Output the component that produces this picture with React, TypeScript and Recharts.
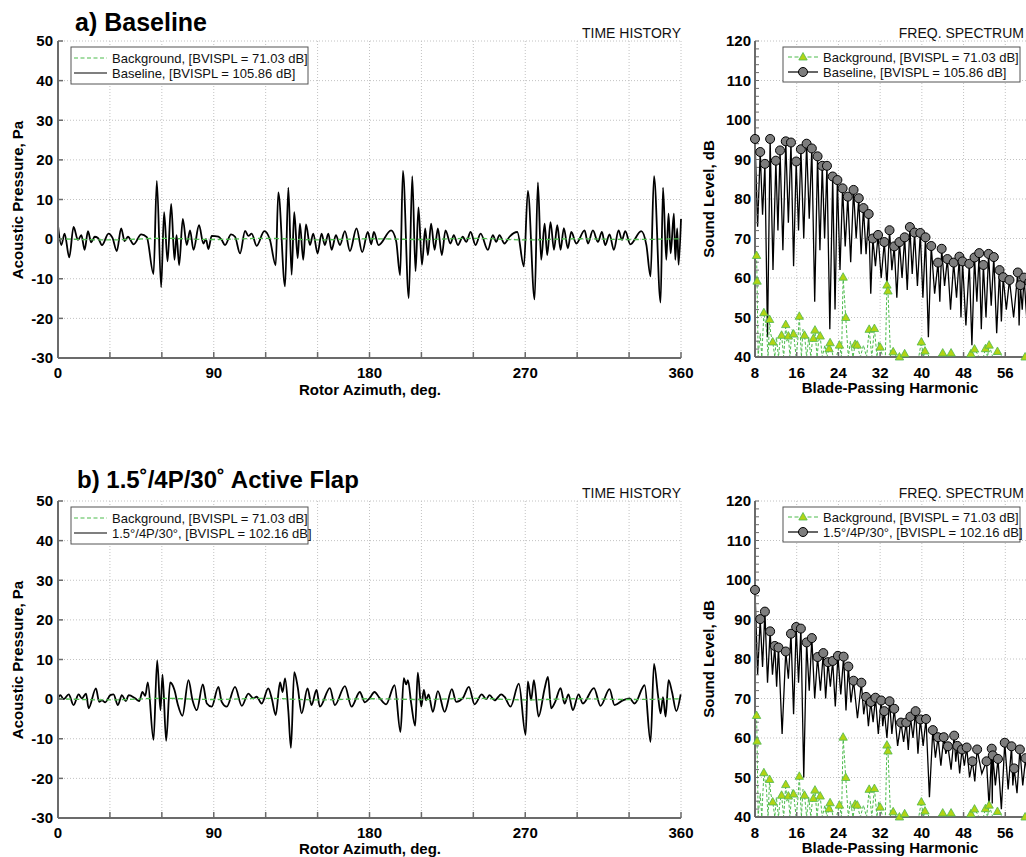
import React from 'react';
import { LineChart, Line, XAxis, YAxis, CartesianGrid } from 'recharts';

// time history: [azimuth deg, pressure Pa], peaks and troughs
const baselineTrace = [
  [0, 3.5], [1.9, -1.5], [3.8, 1.4], [6.5, -4.6], [9.0, 3.1], [11.5, -0.2], [13.5, 1.0], [15.4, -2.7],
  [17.3, 2.0], [19.2, -0.8], [21.2, 0.6], [23.1, 0.3], [25.4, -1.5], [29.2, 1.4], [31.5, 0.3], [34.0, -3.0],
  [36.5, 2.7], [38.5, -0.5], [40.4, 0.6], [43.7, -1.3], [48.1, 1.2], [51.3, 0.5], [55.2, -8.8], [57.1, 14.7],
  [59.6, -12.1], [61.3, 6.8], [63.3, -5.6], [65.4, 8.9], [67.3, -5.2], [68.5, 1.0], [70.0, -6.6], [72.1, 5.1],
  [74.4, -1.5], [76.3, 2.2], [78.3, -2.7], [81.5, 3.5], [84.0, -1.1], [85.5, 0.0], [86.9, -2.5], [88.8, 0.8],
  [92.7, 0.6], [94.6, -0.2], [96.5, -1.5], [100.0, 1.2], [102.3, 0.6], [105.2, -3.6], [108.1, 2.1], [110.0, 0.8],
  [111.9, 1.4], [114.8, -1.7], [119.2, 2.0], [122.5, -0.2], [125.8, -6.6], [127.3, 11.8], [131.2, -11.9], [133.1, 13.0],
  [135.0, -9.0], [136.5, 6.8], [138.5, -4.8], [139.8, 3.9], [141.7, -5.2], [143.3, 3.7], [145.6, -1.5], [147.5, 1.4],
  [150.0, -3.6], [152.3, 1.4], [154.2, -1.5], [156.2, 1.4], [158.1, -2.7], [160.6, 1.0], [162.9, -1.5], [165.8, 2.0],
  [168.7, -3.0], [172.5, 2.7], [175.8, -3.3], [179.0, 1.8], [181.0, -1.3], [182.5, 1.8], [185.2, -1.5], [192.5, 2.2],
  [195.4, -0.5], [197.7, -9.1], [199.3, 17.2], [202.7, -14.9], [204.7, 15.9], [206.6, -8.1], [208.3, 8.0], [210.3, -6.5],
  [212.2, 2.7], [213.7, -4.0], [215.6, 3.9], [217.6, -2.7], [219.5, 2.7], [221.8, -4.0], [223.9, 2.2], [226.8, -1.1],
  [228.7, 1.0], [231.1, -1.5], [233.9, 0.6], [235.9, -0.7], [238.4, 1.8], [241.3, -1.5], [244.2, 1.4], [248.4, -2.7],
  [251.3, 1.0], [253.2, -0.7], [255.1, 1.0], [258.0, -1.1], [260.9, 0.6], [265.4, 1.8], [269.2, -6.9], [271.5, 12.2],
  [275.4, -15.2], [277.3, 14.3], [279.2, -5.2], [281.2, 3.9], [282.7, -4.0], [284.6, 4.3], [286.6, -2.7], [288.5, 3.5],
  [290.4, -2.7], [292.3, 2.8], [294.6, -2.3], [296.6, 1.8], [299.5, -1.1], [304.3, 2.2], [306.2, -1.1], [309.1, 2.2],
  [312.0, -0.7], [314.3, 1.8], [316.2, -1.5], [318.7, 1.2], [321.2, -2.7], [323.9, 2.2], [325.9, -0.2], [327.8, 2.0],
  [330.7, -1.3], [337.0, 2.0], [340.0, -1.5], [342.4, -9.4], [344.4, 15.9], [348.2, -16.0], [349.6, 13.0], [351.5, -5.2],
  [352.8, 6.4], [354.0, -3.6], [355.9, 6.4], [356.7, -5.2], [357.8, 2.7], [358.6, -6.5], [360.0, 5.1],
];

const flapTrace = [
  [0, 0.2], [1.3, 1.0], [3.3, 0.0], [6.2, 1.2], [9.0, -1.5], [11.9, 1.2], [13.8, 0.2], [16.2, 1.4],
  [17.7, -2.3], [21.9, 2.7], [23.8, -0.7], [25.4, -0.3], [27.3, -0.8], [30.2, 1.0], [32.1, 1.2], [34.6, -1.5],
  [36.9, 1.0], [39.2, -0.5], [40.8, 1.0], [44.6, 0.2], [46.9, -0.5], [48.8, 1.8], [50.4, 0.8], [51.9, 4.2],
  [55.2, -10.3], [57.3, 9.8], [59.2, -2.8], [60.4, 6.2], [62.5, -10.5], [64.8, 4.2], [67.3, 2.3], [69.2, -1.3],
  [71.9, -4.2], [75.4, 4.8], [77.7, -0.2], [80.2, -2.8], [83.7, 3.7], [86.0, -1.1], [88.8, -1.9], [92.7, 3.1],
  [94.6, -0.7], [97.5, -1.9], [102.3, 3.1], [106.2, -1.7], [110.0, 1.4], [112.9, 0.2], [114.8, 0.6], [117.7, -1.1],
  [121.5, 2.7], [123.5, 0.2], [125.8, -4.0], [128.3, 4.2], [129.8, 1.8], [131.2, 5.2], [133.1, -3.0], [134.6, -12.3],
  [136.5, 6.8], [138.5, 3.1], [140.8, -3.6], [144.2, 2.7], [146.5, -1.5], [149.4, 2.3], [151.3, -1.9], [157.1, 2.8],
  [160.0, -1.5], [165.8, 3.3], [169.6, -1.9], [174.4, 1.8], [177.3, -0.8], [180.0, 0.2], [182.9, 1.8], [185.8, 0.3],
  [189.6, -1.3], [194.5, 3.5], [197.9, -8.3], [199.8, 5.3], [201.2, 3.7], [202.2, 4.8], [204.1, -1.1], [206.4, -6.7],
  [207.9, 6.7], [209.9, -1.9], [211.4, 2.3], [212.7, -0.3], [214.1, 1.2], [216.6, -3.2], [219.5, 2.0], [223.4, -3.2],
  [227.6, 2.5], [230.1, -0.7], [234.0, 0.3], [237.4, 3.1], [240.7, -1.3], [244.9, 1.2], [247.4, 0.0], [249.4, 1.0],
  [252.3, -0.3], [256.1, 1.2], [258.0, 0.6], [261.5, -1.9], [266.3, 3.9], [270.2, -9.0], [271.5, 4.5], [273.4, -0.2],
  [275.0, 4.8], [277.7, -4.4], [281.2, 2.7], [283.1, 5.6], [285.0, -2.3], [287.3, -0.7], [290.4, 2.8], [292.7, -1.1],
  [295.0, 1.2], [297.5, -2.8], [300.8, 1.2], [303.3, -1.1], [309.7, 2.8], [313.5, -1.7], [318.7, 2.5], [321.6, -1.5],
  [326.4, -0.3], [330.3, 0.2], [333.2, -1.1], [339.0, 3.5], [342.4, -10.8], [344.4, 8.9], [346.7, 1.0], [348.2, -3.6],
  [349.6, 0.5], [351.1, -4.4], [352.8, 4.8], [354.8, 1.8], [357.3, -3.0], [359.8, 1.2],
];

const backgroundTrace = [
  [0, 0.1], [30, -0.2], [60, 0.2], [90, -0.1], [120, 0.2], [150, -0.2], [180, 0.1],
  [210, -0.1], [240, 0.2], [270, -0.2], [300, 0.1], [330, -0.1], [360, 0.1],
];

// spectrum: [harmonic, dB] at the marked points, plus the dips of the line between them
const baselineHarm = [
  [8.0, 95.2], [9.0, 91.9], [9.9, 88.9], [10.9, 95.2], [12.0, 89.7], [12.8, 92.3], [13.9, 94.6], [14.9, 94.3],
  [15.9, 89.5], [16.8, 92.6], [17.9, 94.0], [18.9, 92.8], [20.0, 90.8], [20.9, 88.4], [21.8, 88.4], [22.9, 85.7],
  [23.8, 84.8], [24.8, 82.7], [25.8, 80.6], [26.9, 82.3], [27.9, 80.2], [28.8, 77.7], [29.8, 76.2], [30.6, 70.0],
  [31.6, 70.9], [32.8, 69.1], [33.8, 72.1], [34.7, 68.0], [35.7, 69.1], [36.7, 70.3], [37.7, 72.9], [38.6, 71.5],
  [39.7, 71.4], [40.7, 70.3], [41.8, 68.1], [43.1, 63.9], [43.8, 67.4], [44.9, 64.8], [46.1, 63.9], [47.2, 65.4],
  [47.8, 64.2], [49.1, 63.6], [50.1, 65.2], [51.0, 66.3], [51.8, 63.3], [52.8, 66.1], [53.8, 65.3], [54.9, 62.0],
  [55.6, 60.2], [56.8, 59.5], [58.4, 61.4], [58.9, 58.2], [59.6, 60.1], [60.6, 59.0], [61.6, 57.5], [62.6, 58.0],
  [63.6, 56.0],
];
const baselineDips = [
  73, 76, 45, 62, 72, 67, 74, 63, 72, 70, 75, 54, 67, 70, 47, 52, 62, 68, 64, 70, 66, 66, 56, 63, 60, 58, 62, 55,
  60, 57, 61, 58, 55, 45, 56, 54, 58, 52, 55, 50, 48, 43, 54, 47, 50, 53, 46, 49, 52, 50, 48, 52, 50, 49, 50, 48,
];

const flapHarm = [
  [8.0, 97.5], [9.0, 90.1], [9.9, 92.0], [10.9, 87.0], [11.8, 83.3], [12.5, 82.9], [13.9, 81.9], [14.9, 86.4],
  [15.9, 88.1], [16.8, 87.7], [17.9, 84.2], [18.9, 85.3], [20.0, 80.5], [21.1, 81.5], [22.0, 79.2], [22.9, 79.5],
  [23.9, 80.8], [25.0, 80.6], [25.9, 78.1], [26.9, 74.5], [28.4, 74.0], [29.3, 70.4], [30.2, 69.1], [31.1, 70.2],
  [32.2, 69.5], [32.8, 66.8], [33.8, 69.3], [34.7, 67.4], [36.0, 63.9], [37.0, 63.9], [37.8, 65.4], [38.8, 66.8],
  [39.7, 64.7], [40.8, 64.8], [42.1, 62.0], [43.1, 60.2], [44.2, 60.2], [45.0, 57.9], [46.2, 60.6], [46.8, 58.0],
  [47.7, 57.1], [48.6, 57.6], [49.7, 54.1], [50.6, 57.1], [52.4, 54.1], [53.4, 57.3], [53.6, 55.6], [54.6, 54.7],
  [55.9, 58.8], [57.2, 57.9], [57.7, 52.3], [58.8, 57.1], [59.9, 54.9], [61.0, 55.5], [62.0, 54.0], [63.0, 53.5],
  [64.0, 52.0],
];
const flapDips = [
  76, 78, 74, 76, 73, 61, 75, 66, 74, 50, 72, 70, 72, 70, 73, 68, 71, 67, 69, 65, 66, 63, 64, 61, 63, 60, 61, 58,
  59, 57, 60, 56, 58, 45, 55, 53, 56, 52, 54, 51, 53, 50, 49, 51, 42.5, 43.4, 48, 42, 47, 48, 46, 48, 47, 47, 46, 45,
];

// background spectrum: marked samples and the unmarked ones between (40 = runs off the axis)
const bgMarks = [
  [8.3, 65.7], [8.4, 59.2], [9.7, 51.2], [10.8, 49.5], [11.4, 43.8], [13.1, 45.5], [13.9, 48.2], [14.4, 45.3],
  [15.4, 45.8], [16.5, 50.3], [17.5, 45.5], [19.2, 44.7], [19.5, 46.8], [20.5, 45.3], [22.2, 42.1], [22.4, 43.6],
  [24.2, 43.0], [24.9, 60.2], [25.4, 50.0], [27.2, 43.2], [27.6, 43.0], [29.9, 47.0], [30.9, 47.2], [32.0, 42.5],
  [33.3, 58.2], [33.5, 56.7], [34.5, 41.3], [35.7, 40.0], [36.7, 40.8], [39.9, 43.8], [40.6, 41.5], [44.0, 41.0],
  [45.6, 41.0], [49.4, 40.8], [50.1, 42.0], [52.2, 42.1], [52.9, 43.0], [54.5, 41.4], [59.8, 40.0],
];
const bgLine = [
  [8.6, 40], [9.0, 46], [9.3, 40], [10.2, 47], [10.5, 40], [11.0, 46], [11.8, 40], [12.1, 45], [12.5, 40],
  [12.8, 44], [13.5, 40], [14.1, 44], [14.7, 40], [15.1, 47], [15.9, 40], [16.2, 44], [16.9, 40], [17.2, 47],
  [17.9, 40], [18.3, 45], [18.7, 40], [19.0, 44], [19.9, 40], [20.2, 44], [20.9, 40], [21.4, 43], [21.8, 40],
  [23.0, 40], [23.6, 40], [24.6, 40], [25.9, 40], [26.3, 44], [26.8, 40], [28.2, 40], [28.8, 43], [29.4, 40],
  [30.4, 40], [31.4, 40], [31.7, 44], [32.5, 40], [33.0, 40], [34.0, 40], [35.2, 40], [36.2, 40], [37.5, 40],
  [38.5, 40], [39.4, 40], [40.3, 40], [41.5, 40], [43.0, 40], [44.8, 40], [46.5, 40], [48.5, 40], [49.8, 40],
  [51.0, 40], [51.8, 40], [52.6, 40], [53.6, 40], [55.5, 40], [57.0, 40], [58.5, 40], [60.5, 40], [62.0, 40], [64.0, 40],
];

const azTicks = [0, 30, 60, 90, 120, 150, 180, 210, 240, 270, 300, 330, 360];
const azLabels = [0, 90, 180, 270, 360];
const paTicks = [-30, -20, -10, 0, 10, 20, 30, 40, 50];
const harmTicks = [8, 16, 24, 32, 40, 48, 56, 64];
const harmLabels = [8, 16, 24, 32, 40, 48, 56];
const dbTicks = [40, 42, 44, 46, 48, 50, 52, 54, 56, 58, 60, 62, 64, 66, 68, 70, 72, 74, 76, 78, 80,
  82, 84, 86, 88, 90, 92, 94, 96, 98, 100, 102, 104, 106, 108, 110, 112, 114, 116, 118, 120];
const dbGrid = [40, 50, 60, 70, 80, 90, 100, 110, 120];

const FONT = '"Liberation Sans", Arial, Helvetica, sans-serif';
const AXIS = '#6b6b6b';
const GRID = '#c2c2c2';
const GREEN = '#4cbb4c';
const tickStyle = { fill: '#000', fontSize: 15, fontWeight: 700, fontFamily: FONT };

const toPts = (p: number[][]) => p.map(([x, y]) => ({ x, y }));

const spectrum = (peaks: number[][], dips: number[]) =>
  peaks.flatMap(([h, v], i) =>
    i < dips.length
      ? [{ x: h, y: v, m: 1 }, { x: (h + peaks[i + 1][0]) / 2, y: dips[i], m: 0 }]
      : [{ x: h, y: v, m: 1 }]
  );

const bgSpectrum = [
  ...bgMarks.map(([x, y]) => ({ x, y, m: 1 })),
  ...bgLine.map(([x, y]) => ({ x, y, m: 0 })),
].sort((a, b) => a.x - b.x);

const circleDot = (p: any) =>
  p.payload.m ? (
    <circle key={`c-${p.index}`} cx={p.cx} cy={p.cy} r={4.5} fill="#7d7d7d" stroke="#000" strokeWidth={1} />
  ) : (
    <g key={`c-${p.index}`} />
  );

const triDot = (p: any) =>
  p.payload.m ? (
    <path
      key={`t-${p.index}`}
      d={`M${p.cx},${p.cy - 4.5} L${p.cx + 4.2},${p.cy + 3} L${p.cx - 4.2},${p.cy + 3} Z`}
      fill="#b2d414"
      stroke="#4fb84f"
      strokeWidth={0.8}
    />
  ) : (
    <g key={`t-${p.index}`} />
  );

function TimeHistory({ top, trace }: { top: number; trace: number[][] }) {
  return (
    <div style={{ position: 'absolute', left: 0, top }}>
      <LineChart width={700} height={400} margin={{ top: 41, right: 19, bottom: 0, left: 0 }}>
        <CartesianGrid stroke={GRID} strokeDasharray="1 2" />
        <XAxis
          type="number"
          dataKey="x"
          domain={[0, 360]}
          ticks={azTicks}
          interval={0}
          height={42}
          tickFormatter={(v) => (azLabels.includes(v) ? String(v) : '')}
          axisLine={{ stroke: AXIS, strokeWidth: 2 }}
          tickLine={{ stroke: AXIS, strokeWidth: 1.5 }}
          tickSize={-6}
          tickMargin={15}
          tick={tickStyle}
        />
        <YAxis
          type="number"
          domain={[-30, 50]}
          ticks={paTicks}
          interval={0}
          width={58}
          axisLine={{ stroke: AXIS, strokeWidth: 2 }}
          tickLine={{ stroke: AXIS, strokeWidth: 1.5 }}
          tickSize={-5}
          tickMargin={10}
          tick={tickStyle}
        />
        <Line
          data={toPts(trace)}
          dataKey="y"
          type="monotone"
          stroke="#000"
          strokeWidth={1.8}
          dot={false}
          activeDot={false}
          isAnimationActive={false}
        />
        <Line
          data={toPts(backgroundTrace)}
          dataKey="y"
          type="monotone"
          stroke={GREEN}
          strokeWidth={1.3}
          strokeDasharray="5 3"
          dot={false}
          activeDot={false}
          isAnimationActive={false}
        />
      </LineChart>
    </div>
  );
}

function Spectrum({ top, peaks, dips }: { top: number; peaks: number[][]; dips: number[] }) {
  return (
    <div style={{ position: 'absolute', left: 690, top }}>
      <LineChart width={357} height={400} margin={{ top: 41, right: 0, bottom: 0, left: 0 }}>
        <CartesianGrid stroke={GRID} strokeDasharray="1 2" horizontalValues={dbGrid} />
        <XAxis
          type="number"
          dataKey="x"
          domain={[8, 64]}
          ticks={harmTicks}
          interval={0}
          height={43}
          tickFormatter={(v) => (harmLabels.includes(v) ? String(v) : '')}
          axisLine={{ stroke: AXIS, strokeWidth: 2 }}
          tickLine={{ stroke: AXIS, strokeWidth: 1.5 }}
          tickSize={-5}
          tickMargin={15}
          tick={tickStyle}
        />
        <YAxis
          type="number"
          domain={[40, 120]}
          ticks={dbTicks}
          interval={0}
          width={65}
          tickFormatter={(v) => (dbGrid.includes(v) ? String(v) : '')}
          axisLine={{ stroke: AXIS, strokeWidth: 2 }}
          tickLine={{ stroke: AXIS, strokeWidth: 1 }}
          tickSize={-4}
          tickMargin={8}
          tick={tickStyle}
        />
        <Line
          data={spectrum(peaks, dips)}
          dataKey="y"
          type="linear"
          stroke="#000"
          strokeWidth={1.3}
          dot={circleDot}
          activeDot={false}
          isAnimationActive={false}
        />
        <Line
          data={bgSpectrum}
          dataKey="y"
          type="linear"
          stroke={GREEN}
          strokeWidth={1}
          strokeDasharray="3 2"
          dot={triDot}
          activeDot={false}
          isAnimationActive={false}
        />
      </LineChart>
    </div>
  );
}

function THLegend({ y, label }: { y: number; label: string }) {
  const t = { fontFamily: FONT, fontSize: 13, fill: '#111' };
  return (
    <g>
      <rect x={71} y={y} width={237} height={37} fill="#fff" stroke="#555" strokeWidth={1} />
      <line x1={74} x2={107} y1={y + 11} y2={y + 11} stroke={GREEN} strokeWidth={1.2} strokeDasharray="4 2.5" />
      <text x={112} y={y + 15.5} {...t}>Background, [BVISPL = 71.03 dB]</text>
      <line x1={74} x2={107} y1={y + 26} y2={y + 26} stroke="#000" strokeWidth={1.2} />
      <text x={112} y={y + 30.5} {...t}>{label}</text>
    </g>
  );
}

function SpecLegend({ y, label }: { y: number; label: string }) {
  const t = { fontFamily: FONT, fontSize: 13, fill: '#111' };
  return (
    <g>
      <rect x={783} y={y} width={237} height={35} fill="#fff" stroke="#555" strokeWidth={1} />
      <line x1={788} x2={818} y1={y + 10} y2={y + 10} stroke={GREEN} strokeWidth={1.2} strokeDasharray="4 2.5" />
      <path d={`M803,${y + 5.5} L807.2,${y + 13} L798.8,${y + 13} Z`} fill="#b2d414" stroke="#4fb84f" strokeWidth={0.8} />
      <text x={823} y={y + 14.5} {...t}>Background, [BVISPL = 71.03 dB]</text>
      <line x1={788} x2={818} y1={y + 25} y2={y + 25} stroke="#000" strokeWidth={1.2} />
      <circle cx={803} cy={y + 25} r={4.5} fill="#7d7d7d" stroke="#000" strokeWidth={1} />
      <text x={823} y={y + 29.5} {...t}>{label}</text>
    </g>
  );
}

function Annotations() {
  const title = { fontFamily: FONT, fontWeight: 700, fill: '#000' };
  const axisTitle = { fontFamily: FONT, fontSize: 15, fontWeight: 700, fill: '#000' };
  const tag = { fontFamily: FONT, fontSize: 14, fill: '#111' };
  return (
    <svg width={1026} height={857} style={{ position: 'absolute', left: 0, top: 0, pointerEvents: 'none' }}>
      <text x={75} y={31} fontSize={25} {...title}>a) Baseline</text>
      <text x={77} y={488} fontSize={24} {...title}>b) 1.5˚/4P/30˚ Active Flap</text>

      <text x={681} y={38} textAnchor="end" {...tag}>TIME HISTORY</text>
      <text x={681} y={498} textAnchor="end" {...tag}>TIME HISTORY</text>
      <text x={1024} y={38} textAnchor="end" {...tag}>FREQ. SPECTRUM</text>
      <text x={1024} y={498} textAnchor="end" {...tag}>FREQ. SPECTRUM</text>

      <text x={370} y={395} textAnchor="middle" {...axisTitle}>Rotor Azimuth, deg.</text>
      <text x={370} y={854} textAnchor="middle" {...axisTitle}>Rotor Azimuth, deg.</text>
      <text x={890} y={393} textAnchor="middle" {...axisTitle}>Blade-Passing Harmonic</text>
      <text x={890} y={853} textAnchor="middle" {...axisTitle}>Blade-Passing Harmonic</text>

      <text transform="translate(23,200) rotate(-90)" textAnchor="middle" {...axisTitle}>Acoustic Pressure, Pa</text>
      <text transform="translate(23,660) rotate(-90)" textAnchor="middle" {...axisTitle}>Acoustic Pressure, Pa</text>
      <text transform="translate(714,199) rotate(-90)" textAnchor="middle" {...axisTitle}>Sound Level, dB</text>
      <text transform="translate(714,659) rotate(-90)" textAnchor="middle" {...axisTitle}>Sound Level, dB</text>

      <THLegend y={47} label="Baseline, [BVISPL = 105.86 dB]" />
      <THLegend y={507} label="1.5°/4P/30°, [BVISPL = 102.16 dB]" />
      <SpecLegend y={47} label="Baseline, [BVISPL = 105.86 dB]" />
      <SpecLegend y={507} label="1.5°/4P/30°, [BVISPL = 102.16 dB]" />
    </svg>
  );
}

export default function App() {
  return (
    <div
      style={{
        position: 'absolute',
        left: 0,
        top: 0,
        width: 1026,
        height: 857,
        overflow: 'hidden',
        background: '#fff',
      }}
    >
      <TimeHistory top={0} trace={baselineTrace} />
      <TimeHistory top={460} trace={flapTrace} />
      <Spectrum top={0} peaks={baselineHarm} dips={baselineDips} />
      <Spectrum top={460} peaks={flapHarm} dips={flapDips} />
      <Annotations />
    </div>
  );
}
